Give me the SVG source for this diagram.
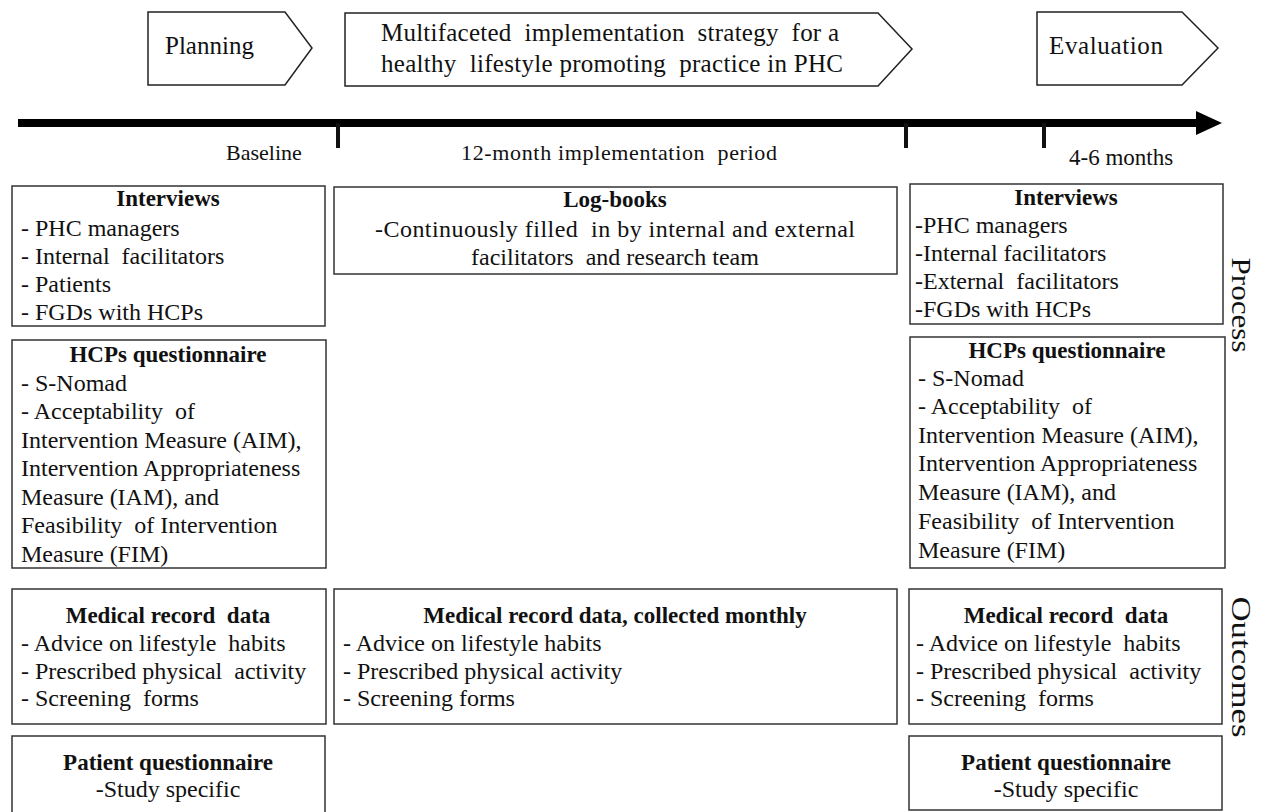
<svg xmlns="http://www.w3.org/2000/svg" width="1262" height="812" viewBox="0 0 1262 812" xml:space="preserve">
<style>
  text { font-family: "Liberation Serif", "Times New Roman", serif; fill: #111; white-space: pre; }
  .box { fill: #fff; stroke: #333; stroke-width: 1.5; }
  .ph { fill: #fff; stroke: #222; stroke-width: 1.5; }
  .t { font-size: 24px; }
  .b { font-size: 23px; font-weight: bold; text-anchor: middle; }
  .c { font-size: 24px; text-anchor: middle; }
  .top { font-size: 25px; }
  .lab { font-size: 22px; }
  .side { font-size: 27px; text-anchor: middle; }
</style>
<rect width="1262" height="812" fill="#fff"/>
<g id="phase-planning"><polygon class="ph" points="148,12 285,12 312,48 285,85 148,85"/><text class="top" x="165" y="54">Planning</text></g>
<g id="phase-implementation"><polygon class="ph" points="345,13 878,13 912,49 878,86 345,86"/><text class="top" x="381" y="41" textLength="458">Multifaceted  implementation  strategy  for a</text><text class="top" x="381" y="72" textLength="462">healthy  lifestyle promoting  practice in PHC</text></g>
<g id="phase-evaluation"><polygon class="ph" points="1037,12 1182,12 1218,48 1182,85 1037,85"/><text class="top" x="1049" y="54" textLength="114">Evaluation</text></g>
<g id="connectors"><rect x="18" y="119" width="1182" height="8" fill="#000"/><polygon points="1196,111 1222,123 1196,135" fill="#000"/><rect x="336" y="123" width="4" height="25" fill="#111"/><rect x="904" y="123" width="4" height="25" fill="#111"/><rect x="1042" y="123" width="4" height="25" fill="#111"/></g>
<g id="timeline-labels"><text class="lab" x="226" y="160">Baseline</text><text class="lab" x="461" y="160" textLength="316">12-month implementation  period</text><text class="lab" x="1069" y="165" style="font-size:23px">4-6 months</text></g>
<g id="baseline-interviews"><rect class="box" x="12" y="186" width="313" height="140"/><text class="b" x="168" y="206">Interviews</text><text class="t" x="21" y="236">- PHC managers</text><text class="t" x="21" y="264">- Internal  facilitators</text><text class="t" x="21" y="292">- Patients</text><text class="t" x="21" y="320">- FGDs with HCPs</text></g>
<g id="baseline-hcps-questionnaire"><rect class="box" x="12" y="340" width="314" height="228"/><text class="b" x="168" y="362">HCPs questionnaire</text><text class="t" x="21" y="391">- S-Nomad</text><text class="t" x="21" y="419">- Acceptability  of</text><text class="t" x="21" y="448">Intervention Measure (AIM),</text><text class="t" x="21" y="476">Intervention Appropriateness</text><text class="t" x="21" y="505">Measure (IAM), and</text><text class="t" x="21" y="533">Feasibility  of Intervention</text><text class="t" x="21" y="562">Measure (FIM)</text></g>
<g id="logbooks"><rect class="box" x="334" y="187" width="563" height="87"/><text class="b" x="615" y="207">Log-books</text><text class="c" x="615" y="237" textLength="480">-Continuously filled  in by internal and external</text><text class="c" x="615" y="265">facilitators  and research team</text></g>
<g id="evaluation-interviews"><rect class="box" x="910" y="184" width="313" height="140"/><text class="b" x="1066" y="205">Interviews</text><text class="t" x="915" y="233">-PHC managers</text><text class="t" x="915" y="261">-Internal facilitators</text><text class="t" x="915" y="289">-External  facilitators</text><text class="t" x="915" y="317">-FGDs with HCPs</text></g>
<g id="evaluation-hcps-questionnaire"><rect class="box" x="910" y="337" width="315" height="231"/><text class="b" x="1067" y="358">HCPs questionnaire</text><text class="t" x="918" y="386">- S-Nomad</text><text class="t" x="918" y="414">- Acceptability  of</text><text class="t" x="918" y="443">Intervention Measure (AIM),</text><text class="t" x="918" y="471">Intervention Appropriateness</text><text class="t" x="918" y="500">Measure (IAM), and</text><text class="t" x="918" y="529">Feasibility  of Intervention</text><text class="t" x="918" y="558">Measure (FIM)</text></g>
<g id="baseline-medical-record"><rect class="box" x="12" y="589" width="314" height="135"/><text class="b" x="168" y="623">Medical record  data</text><text class="t" x="21" y="651">- Advice on lifestyle  habits</text><text class="t" x="21" y="679">- Prescribed physical  activity</text><text class="t" x="21" y="706">- Screening  forms</text></g>
<g id="monthly-medical-record"><rect class="box" x="334" y="589" width="563" height="135"/><text class="b" x="615" y="623">Medical record data, collected monthly</text><text class="t" x="343" y="651">- Advice on lifestyle habits</text><text class="t" x="343" y="679">- Prescribed physical activity</text><text class="t" x="343" y="706">- Screening forms</text></g>
<g id="evaluation-medical-record"><rect class="box" x="909" y="589" width="313" height="135"/><text class="b" x="1066" y="623">Medical record  data</text><text class="t" x="916" y="651">- Advice on lifestyle  habits</text><text class="t" x="916" y="679">- Prescribed physical  activity</text><text class="t" x="916" y="706">- Screening  forms</text></g>
<g id="baseline-patient-questionnaire"><rect class="box" x="12" y="736" width="313" height="80"/><text class="b" x="168" y="770">Patient questionnaire</text><text class="c" x="168" y="797">-Study specific</text></g>
<g id="evaluation-patient-questionnaire"><rect class="box" x="909" y="736" width="313" height="74"/><text class="b" x="1066" y="770">Patient questionnaire</text><text class="c" x="1066" y="797">-Study specific</text></g>
<g id="side-labels"><text class="side" transform="translate(1232,305) rotate(90)" textLength="95" lengthAdjust="spacingAndGlyphs">Process</text><text class="side" transform="translate(1232,667) rotate(90)" textLength="141" lengthAdjust="spacingAndGlyphs">Outcomes</text></g>
</svg>
